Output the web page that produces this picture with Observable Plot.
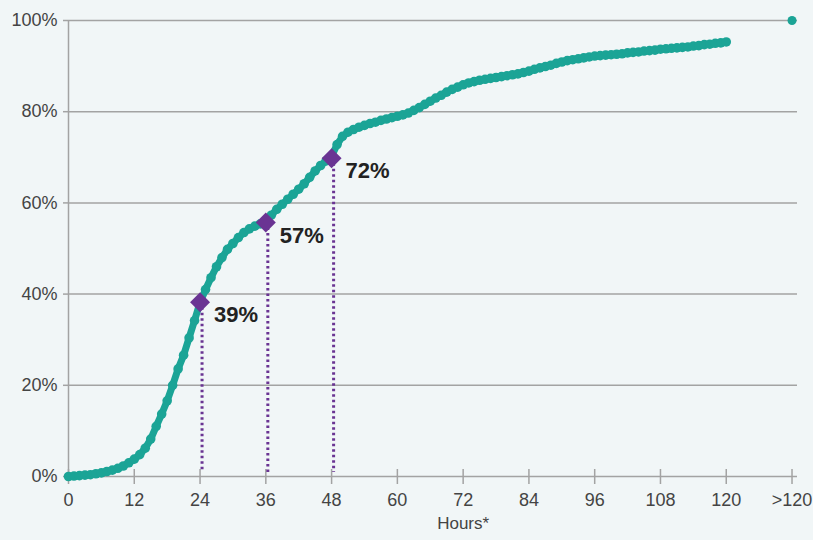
<!DOCTYPE html>
<html>
<head>
<meta charset="utf-8">
<script src="https://cdn.jsdelivr.net/npm/d3@7"></script>
<script src="https://cdn.jsdelivr.net/npm/@observablehq/plot@0.6"></script>
<style>
html, body { margin: 0; padding: 0; background: #f1f6f7; }
</style>
</head>
<body>
<div id="chart"></div>
<script>
// Cumulative share (%) by hour, 0..120
const values = [
  0, 0.1, 0.2, 0.3, 0.4, 0.6, 0.8, 1.1, 1.4, 1.8,
  2.3, 3.0, 3.8, 4.8, 6.2, 8.2, 11.0, 13.7, 16.6, 20.0,
  23.6, 26.6, 30.4, 34.2, 38.2, 41.0, 43.6, 46.0, 48.0, 49.8,
  51.1, 52.4, 53.5, 54.3, 54.9, 55.4, 56.0, 57.3, 58.6, 59.7,
  60.8, 61.9, 63.0, 64.2, 65.6, 67.0, 68.2, 69.2, 70.2, 72.8,
  74.6, 75.5, 76.1, 76.6, 77.0, 77.4, 77.7, 78.1, 78.4, 78.7,
  79.0, 79.3, 79.7, 80.3, 80.9, 81.6, 82.3, 83.0, 83.6, 84.3,
  84.9, 85.4, 85.9, 86.3, 86.6, 86.9, 87.1, 87.3, 87.5, 87.7,
  87.9, 88.1, 88.3, 88.6, 88.9, 89.3, 89.6, 89.9, 90.2, 90.6,
  90.9, 91.2, 91.4, 91.6, 91.8, 92.0, 92.2, 92.3, 92.4, 92.5,
  92.6, 92.7, 92.9, 93.0, 93.1, 93.3, 93.4, 93.5, 93.7, 93.8,
  93.9, 94.0, 94.1, 94.2, 94.4, 94.5, 94.7, 94.8, 95.0, 95.1,
  95.3
];
const overflowHour = 132;   // position of ">120"
const overflowValue = 100;

const milestoneHours = [24, 36, 48];
const milestoneValues = [38.2, 55.7, 69.8];
const milestoneLabels = ["39%", "57%", "72%"];

const xTicks = [0, 12, 24, 36, 48, 60, 72, 84, 96, 108, 120, 132];
const xTickLabels = ["0", "12", "24", "36", "48", "60", "72", "84", "96", "108", "120", ">120"];
const yTicks = [0, 20, 40, 60, 80, 100];
const xTitle = "Hours*";

const curve = values.map((v, i) => ({h: i, v}));
const overflow = [{h: overflowHour, v: overflowValue}];
const milestones = milestoneHours.map((h, i) => ({h, v: milestoneValues[i], label: milestoneLabels[i]}));

const teal = "#1ba496";
const purple = "#6a3493";
const grid = "#a3a3a3";
const textColor = "#444444";

const chart = Plot.plot({
  width: 813,
  height: 540,
  marginLeft: 68,
  marginRight: 16,
  marginTop: 20,
  marginBottom: 64,
  style: {
    background: "#f1f6f7",
    fontFamily: "'Liberation Sans', Arial, Helvetica, sans-serif",
    fontSize: "18px",
    color: textColor,
    overflow: "visible"
  },
  x: {domain: [0, 133]},
  y: {domain: [0, 100]},
  marks: [
    Plot.ruleY(yTicks, {stroke: grid, strokeWidth: 1.5}),
    Plot.ruleX([0], {stroke: grid, strokeWidth: 1.5}),
    Plot.ruleX(xTicks, {x: d => d, y1: 0, y2: 0, insetTop: 8, insetBottom: 7, stroke: grid, strokeWidth: 1.5}),
    Plot.axisY({ticks: yTicks, tickSize: 5, tickPadding: 6, tickFormat: d => d + "%", label: null,
      stroke: grid, strokeWidth: 1.5, fill: textColor, fontSize: 18}),
    Plot.axisX({ticks: xTicks, tickSize: 0, tickPadding: 17, tickFormat: d => xTickLabels[xTicks.indexOf(d)],
      label: null, fill: textColor, fontSize: 18}),
    Plot.text([xTitle], {x: 72, frameAnchor: "bottom", dy: 52, fontSize: 17, fill: textColor}),
    Plot.line(curve, {x: "h", y: "v", stroke: teal, strokeWidth: 7}),
    Plot.dot(curve, {x: "h", y: "v", r: 4.8, fill: teal}),
    Plot.dot(overflow, {x: "h", y: "v", r: 4.5, fill: teal}),
    Plot.ruleX(milestones, {x: "h", y1: "v", y2: 0, dx: 2, insetBottom: 4, stroke: purple, strokeWidth: 3, strokeDasharray: "2.5,3"}),
    Plot.dot(milestones, {x: "h", y: "v", symbol: "diamond2", r: 9, fill: purple}),
    Plot.text(milestones, {x: "h", y: "v", text: "label", dx: 14, dy: 13, textAnchor: "start",
      fontWeight: "bold", fontSize: 22, fill: "#222"})
  ]
});
document.getElementById("chart").appendChild(chart);
</script>
</body>
</html>
